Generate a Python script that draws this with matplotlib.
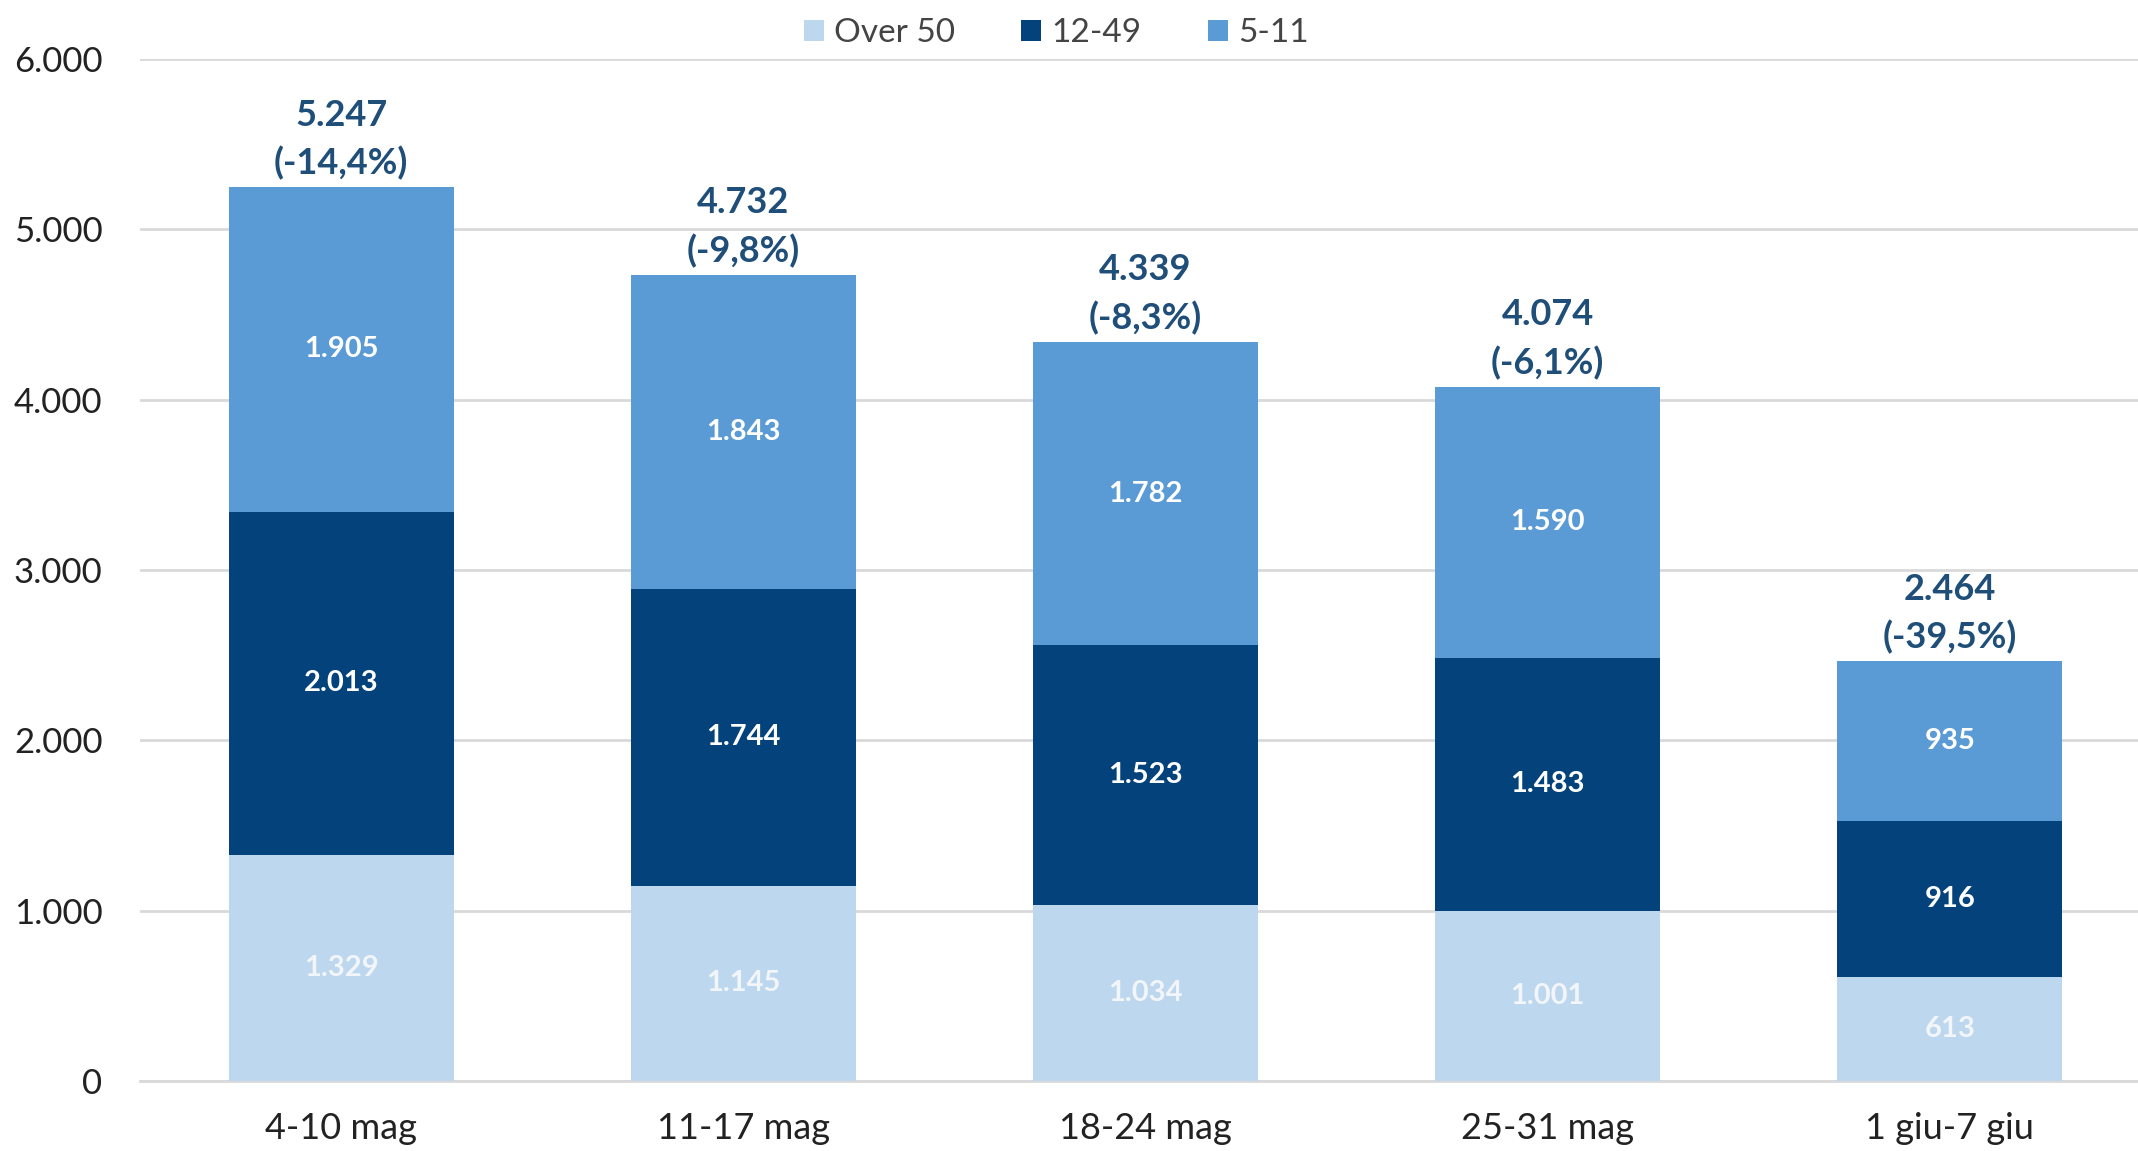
import matplotlib
matplotlib.use("Agg")
import matplotlib.pyplot as plt
import numpy as np

categories = ["4-10 mag", "11-17 mag", "18-24 mag", "25-31 mag", "1 giu-7 giu"]
over50 = [1329, 1145, 1034, 1001, 613]
age12_49 = [2013, 1744, 1523, 1483, 916]
age5_11 = [1905, 1843, 1782, 1590, 935]
totals = [5247, 4732, 4339, 4074, 2464]
pct_change = ["(-14,4%)", "(-9,8%)", "(-8,3%)", "(-6,1%)", "(-39,5%)"]
series_names = ["Over 50", "12-49", "5-11"]
yticks = [0, 1000, 2000, 3000, 4000, 5000, 6000]

plt.rcParams['font.family'] = ['Lato', 'DejaVu Sans']

def it_fmt(v):
    return f"{v:,}".replace(",", ".")

colors = ["#BDD7EE", "#03427A", "#5B9BD5"]
label_colors = ["#F2F6FA", "white", "white"]

fig = plt.figure(figsize=(21.38, 11.51), dpi=100)
ax = fig.add_axes([0.0655, 0.0608, 0.9405, 0.888])

x = np.arange(len(categories))
width = 0.56
bottom = np.zeros(len(categories))
handles = []
for vals, col, lc, name in zip([over50, age12_49, age5_11], colors, label_colors, series_names):
    vals = np.array(vals)
    b = ax.bar(x, vals, width, bottom=bottom, color=col, label=name, zorder=3)
    handles.append(b)
    for xi, v, bt in zip(x, vals, bottom):
        ax.text(xi, bt + v / 2, it_fmt(int(v)), ha='center', va='center',
                color=lc, fontsize=21, fontweight='bold', zorder=4)
    bottom = bottom + vals

for xi, t, p in zip(x, totals, pct_change):
    ax.annotate(f"{it_fmt(t)}\n{p}", (xi, t), xytext=(0, 5), textcoords='offset points',
                ha='center', va='bottom', fontsize=26, fontweight='bold',
                color="#1F4E79", linespacing=1.5)

ax.set_xlim(-0.5, 4.5)
ax.set_ylim(0, 6000)
ax.set_yticks(yticks)
ax.set_yticklabels([it_fmt(v) for v in yticks], fontsize=25, color="#222222")
ax.set_xticks(x)
ax.set_xticklabels(categories, fontsize=26, color="#222222")
ax.tick_params(axis='both', length=0)
ax.tick_params(axis='y', pad=27)
ax.tick_params(axis='x', pad=22)
ax.grid(axis='y', color="#D9D9D9", linewidth=2, zorder=0)
for s in ["top", "right", "left"]:
    ax.spines[s].set_visible(False)
ax.spines["bottom"].set_color("#D9D9D9")
ax.spines["bottom"].set_linewidth(2)

fig.legend(handles=handles, labels=series_names, loc='upper center',
           bbox_to_anchor=(0.494, 1.01), ncol=3, frameon=False, fontsize=24,
           handlelength=0.6, handleheight=0.6, handletextpad=0.3, columnspacing=2.0,
           labelcolor="#444444")

fig.savefig("out.png", dpi=100)
